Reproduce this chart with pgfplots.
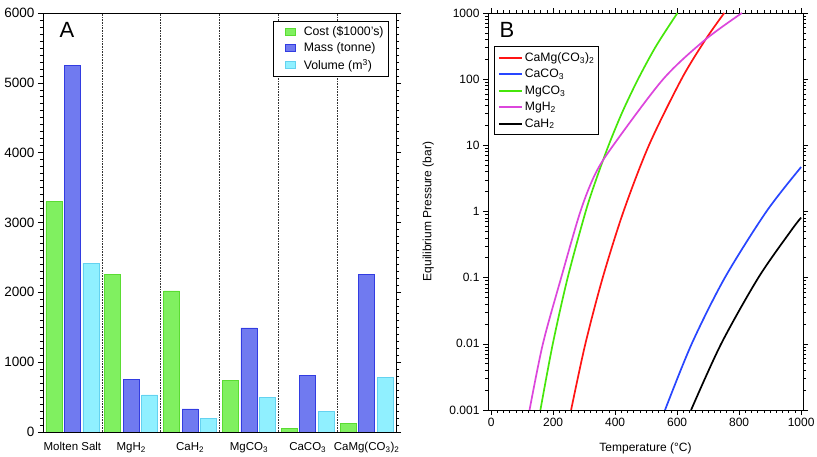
\documentclass[border=0pt]{standalone}
\usepackage{fontspec}
\setmainfont{Liberation Sans}
\usepackage{pgfplots}
\pgfplotsset{compat=1.18}
\definecolor{costF}{RGB}{128,240,96}
\definecolor{costD}{RGB}{90,220,50}
\definecolor{massF}{RGB}{112,122,240}
\definecolor{massD}{RGB}{50,60,225}
\definecolor{volF}{RGB}{144,240,255}
\definecolor{volD}{RGB}{100,210,240}
\definecolor{cRed}{RGB}{255,20,20}
\definecolor{cBlue}{RGB}{40,70,255}
\definecolor{cGreen}{RGB}{70,230,10}
\definecolor{cMag}{RGB}{220,70,220}
\begin{document}
\begin{tikzpicture}
\path[use as bounding box] (0pt,0pt) rectangle (817pt,457pt);
% ---------------- Panel A ----------------
\begin{axis}[
  at={(43pt,25pt)}, anchor=south west, scale only axis,
  width=353pt, height=419pt,
  xmin=-0.5, xmax=5.5, ymin=0, ymax=6000,
  ybar=2.5pt, bar width=16pt,
  xtick={0,1,2,3,4,5},
  xticklabels={Molten Salt, MgH\textsubscript{2}, CaH\textsubscript{2}, MgCO\textsubscript{3}, CaCO\textsubscript{3}, CaMg(CO\textsubscript{3})\textsubscript{2}},
  xtick style={draw=none},
  ytick={0,1000,2000,3000,4000,5000,6000},
  minor y tick num=9,
  tick align=outside, ytick pos=both,
  major tick length=5pt, minor tick length=3pt,
  ytick style={black, line width=0.6pt},
  axis line style={black, line width=0.7pt},
  /pgf/number format/assume math mode=true,
  /pgf/number format/1000 sep={},
  scaled y ticks=false,
  yticklabel style={font=\fontsize{13.5}{14}\selectfont},
  xticklabel style={font=\fontsize{11.5}{12}\selectfont, yshift=-2pt},
  legend style={at={(0.980,0.981)}, anchor=north east, draw=black, line width=0.8pt,
    font=\fontsize{12.3}{13}\selectfont, inner sep=3pt, row sep=2pt, cells={anchor=west}},
  legend image code/.code={\path[draw=none,fill=none] (0pt,0pt) -- (25pt,0pt); \draw[#1] (9pt,-3.5pt) rectangle (19pt,3.5pt);},
]
\addplot[fill=costF, draw=costD, line width=0.8pt] coordinates {(0,3300) (1,2250) (2,2020) (3,740) (4,45) (5,125)};
\addplot[fill=massF, draw=massD, line width=0.8pt] coordinates {(0,5250) (1,750) (2,330) (3,1490) (4,810) (5,2250)};
\addplot[fill=volF, draw=volD, line width=0.8pt] coordinates {(0,2420) (1,530) (2,190) (3,500) (4,290) (5,780)};
\legend{Cost (\$1000's), Mass (tonne), Volume (m\textsuperscript{3})}
\draw[black!80, densely dotted, line width=0.6pt] (0.5,0) -- (0.5,6000);
\draw[black!80, densely dotted, line width=0.6pt] (1.5,0) -- (1.5,6000);
\draw[black!80, densely dotted, line width=0.6pt] (2.5,0) -- (2.5,6000);
\draw[black!80, densely dotted, line width=0.6pt] (3.5,0) -- (3.5,6000);
\draw[black!80, densely dotted, line width=0.6pt] (4.5,0) -- (4.5,6000);
\node[font=\fontsize{22}{24}\selectfont] at (rel axis cs:0.068,0.959) {A};
\end{axis}
% ---------------- Panel B ----------------
\begin{axis}[
  at={(488pt,47pt)}, anchor=south west, scale only axis,
  width=315pt, height=397pt,
  xmin=-10, xmax=1006,
  ymode=log, ymin=0.001, ymax=1000,
  xtick={0,200,400,600,800,1000}, minor x tick num=9,
  ytick={0.001,0.01,0.1,1,10,100,1000},
  yticklabels={0.001,0.01,0.1,1,10,100,1000},
  minor ytick={0.002,0.003,0.004,0.005,0.006,0.007,0.008,0.009,
    0.02,0.03,0.04,0.05,0.06,0.07,0.08,0.09,
    0.2,0.3,0.4,0.5,0.6,0.7,0.8,0.9,
    2,3,4,5,6,7,8,9,20,30,40,50,60,70,80,90,200,300,400,500,600,700,800,900},
  tick align=outside, xtick pos=both, ytick pos=both,
  major tick length=5pt, minor tick length=3pt,
  tick style={black, line width=0.6pt},
  axis line style={black, line width=0.7pt},
  /pgf/number format/assume math mode=true,
  /pgf/number format/1000 sep={},
  ticklabel style={font=\fontsize{12}{13}\selectfont},
  xlabel={Temperature (\textdegree C)},
  ylabel={Equilibrium Pressure (bar)},
  label style={font=\fontsize{12}{13}\selectfont},
  xlabel style={at={(axis description cs:0.5,-0.096)}, anchor=center},
  ylabel style={at={(axis description cs:-0.19,0.5)}, anchor=center},
  legend style={at={(0.019,0.917)}, anchor=north west, draw=black, line width=0.8pt,
    font=\fontsize{12.2}{13}\selectfont, inner xsep=2.5pt, inner ysep=4pt, row sep=2.5pt, cells={anchor=west}},
  legend image code/.code={\path[draw=none,fill=none] (0pt,0pt) -- (26pt,0pt); \draw[#1, line width=2pt] (2pt,0pt) -- (25pt,0pt);},
]
\addplot[cRed, line width=1.7pt, smooth] coordinates {(258,0.001) (304,0.01) (360,0.1) (427,1) (509,10) (614,100) (691,393) (752,1000)};
\addplot[cBlue, line width=1.7pt, smooth] coordinates {(561,0.001) (647,0.01) (754,0.1) (888,1) (1000,4.7)};
\addplot[cGreen, line width=1.7pt, smooth] coordinates {(159,0.001) (199,0.01) (247,0.1) (305,1) (340,3.16) (379,10) (423,31.6) (474,100) (532,316) (601,1000)};
\addplot[cMag, line width=1.7pt, smooth] coordinates {(124,0.001) (167,0.01) (226,0.1) (288,1) (336,3.7) (394,10) (555,100) (690,393) (809,1000)};
\addplot[black, line width=1.7pt, smooth] coordinates {(645,0.001) (742,0.01) (862,0.1) (967,0.51) (1000,0.81)};
\legend{CaMg(CO\textsubscript{3})\textsubscript{2}, CaCO\textsubscript{3}, MgCO\textsubscript{3}, MgH\textsubscript{2}, CaH\textsubscript{2}}
\node[font=\fontsize{22}{24}\selectfont] at (rel axis cs:0.06,0.957) {B};
\end{axis}
\end{tikzpicture}
\end{document}
